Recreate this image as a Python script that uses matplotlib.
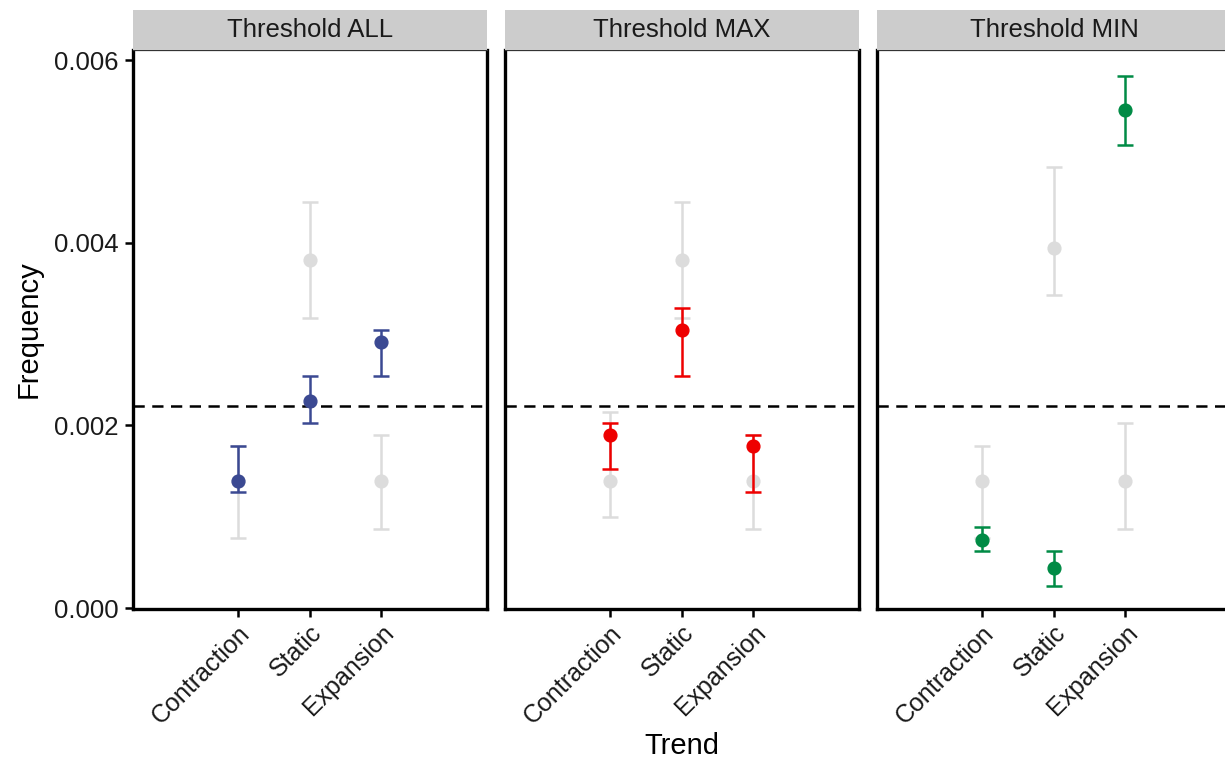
import matplotlib
matplotlib.use("Agg")
import matplotlib.pyplot as plt
from matplotlib.patches import Rectangle
import numpy as np

plt.rcParams['font.family'] = ['Liberation Sans', 'DejaVu Sans']

categories = ["Contraction", "Static", "Expansion"]
panels = ["Threshold ALL", "Threshold MAX", "Threshold MIN"]
colors = ["#3B4992", "#EE0000", "#008B45"]
gray = "#DCDCDC"
baseline = 0.00221

# null (gray) estimates per panel
null_mean = [[0.00139, 0.00381, 0.00139],
             [0.00139, 0.00381, 0.00139],
             [0.00139, 0.00394, 0.00139]]
null_low = [[0.00077, 0.00318, 0.00087],
            [0.00100, 0.00318, 0.00087],
            [0.00077, 0.00343, 0.00087]]
null_high = [[0.00177, 0.00445, 0.00190],
             [0.00215, 0.00445, 0.00190],
             [0.00177, 0.00483, 0.00203]]

# observed estimates per panel
obs_mean = [[0.00139, 0.00227, 0.00291],
            [0.00190, 0.00304, 0.00177],
            [0.00075, 0.00044, 0.00545]]
obs_low = [[0.00127, 0.00203, 0.00254],
           [0.00152, 0.00254, 0.00127],
           [0.00063, 0.00024, 0.00507]]
obs_high = [[0.00177, 0.00254, 0.00304],
            [0.00203, 0.00329, 0.00190],
            [0.00089, 0.00063, 0.00583]]

yticks = [0.000, 0.002, 0.004, 0.006]
ytick_labels = ["0.000", "0.002", "0.004", "0.006"]

W, H = 1225, 761
fig = plt.figure(figsize=(W / 100, H / 100), dpi=100)
lefts = [133, 505, 877]
pw = 354
top, bottom = 50, 609
strip_h = 40

x = np.arange(len(categories))
for i, name in enumerate(panels):
    l = lefts[i]
    ax = fig.add_axes([l / W, 1 - bottom / H, pw / W, (bottom - top) / H])
    ax.set_xlim(-1.46, 3.47)
    ax.set_ylim(-0.00001, 0.00611)
    nm = np.array(null_mean[i]); nl = np.array(null_low[i]); nh = np.array(null_high[i])
    om = np.array(obs_mean[i]); ol = np.array(obs_low[i]); oh = np.array(obs_high[i])
    ax.errorbar(x, nm, yerr=[nm - nl, nh - nm], fmt='o', color=gray, ms=9.2,
                capsize=5.6, elinewidth=1.8, capthick=1.8, zorder=2)
    ax.axhline(baseline, color='black', linestyle=(0, (4.5, 3)), linewidth=1.8, zorder=3)
    ax.errorbar(x, om, yerr=[om - ol, oh - om], fmt='o', color=colors[i], ms=9.2,
                capsize=5.6, elinewidth=1.8, capthick=1.8, zorder=4)
    for s in ['left', 'right', 'bottom']:
        ax.spines[s].set_linewidth(2.4)
        ax.spines[s].set_color('black')
    ax.spines['top'].set_linewidth(0.9)
    ax.spines['top'].set_color('#333333')
    ax.set_xticks(x)
    ax.set_xticklabels(categories, rotation=45, ha='right', va='top',
                       rotation_mode='anchor', fontsize=18, color='#1a1a1a')
    ax.tick_params(axis='x', length=5.5, width=1.8, pad=3)
    ax.set_yticks(yticks)
    if i == 0:
        ax.set_yticklabels(ytick_labels, fontsize=18.5, color='#1a1a1a')
        ax.tick_params(axis='y', length=5.5, width=1.8, pad=5)
        ax.set_ylabel("Frequency", fontsize=21, labelpad=8)
    else:
        ax.tick_params(axis='y', left=False, labelleft=False)
    # strip
    fig.patches.append(Rectangle((l / W, 1 - top / H), pw / W, strip_h / H,
                                 transform=fig.transFigure, facecolor='#CCCCCC',
                                 edgecolor='none', zorder=0))
    fig.text((l + pw / 2) / W, 1 - (top - strip_h / 2) / H, name,
             ha='center', va='center', fontsize=18.5, color='#1a1a1a')

fig.text(682 / W, 1 - 746 / H, "Trend", ha='center', va='center', fontsize=21,
         color='black')

fig.savefig("out.png", dpi=100)
